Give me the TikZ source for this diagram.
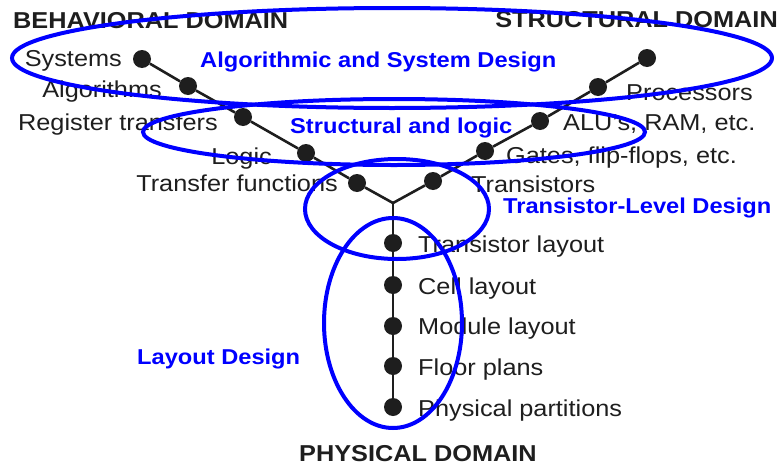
\documentclass[tikz,border=0pt]{standalone}
\usepackage{fontspec}
\setmainfont{Liberation Sans}[FakeStretch=1.1]

\definecolor{ink}{HTML}{1E1E1E}
\definecolor{markblue}{HTML}{0000FF}

\tikzset{
  dot/.style={circle, fill=ink, inner sep=0pt, minimum size=18pt},
  stagetext/.style={text=ink, inner sep=0pt, font=\fontsize{23}{27}\selectfont},
  domaintitle/.style={text=ink, inner sep=0pt, font=\fontsize{23}{27}\selectfont\bfseries},
  designtext/.style={text=markblue, inner sep=0pt, font=\fontsize{21.5}{25}\selectfont\bfseries},
  chainline/.style={ink, line width=2.6pt},
  ring/.style={draw=markblue, line width=4pt}
}

\begin{document}
\begin{tikzpicture}[x=1pt, y=-1pt]
    \useasboundingbox (0,0) rectangle (782,466);

    % The three domain titles
    \node[domaintitle, anchor=base west] (behav) at (13,28) {BEHAVIORAL DOMAIN};
    \node[domaintitle, anchor=base east] (struct) at (778,27) {STRUCTURAL DOMAIN};
    \node[domaintitle, anchor=base] (phys) at (418,461) {PHYSICAL DOMAIN};

    % Centre of the Y chart, where the three axes meet
    \coordinate (J) at (393,203);

    % Behavioral axis (upper left)
    \node[dot] (B1) at (142,59) {};
    \node[dot] (B2) at (188,86) {};
    \node[dot] (B3) at (243,117) {};
    \node[dot] (B4) at (306,153) {};
    \node[dot] (B5) at (357,183) {};
    \draw[chainline] (B1) -- (B2) -- (B3) -- (B4) -- (B5) -- (J);

    \node[stagetext, anchor=base east] (systems) at (122,66) {Systems};
    \node[stagetext, anchor=base east] (algo) at (162,97) {Algorithms};
    \node[stagetext, anchor=base east] (regtr) at (218,130) {Register transfers};
    \node[stagetext, anchor=base east] (logic) at (272,164) {Logic};
    \node[stagetext, anchor=base east] (transf) at (338,191) {Transfer functions};

    % Structural axis (upper right)
    \node[dot] (S1) at (647,58) {};
    \node[dot] (S2) at (598,87) {};
    \node[dot] (S3) at (540,121) {};
    \node[dot] (S4) at (485,151) {};
    \node[dot] (S5) at (433,181) {};
    \draw[chainline] (S1) -- (S2) -- (S3) -- (S4) -- (S5) -- (J);

    \node[stagetext, anchor=base west] (proc) at (626,100) {Processors};
    \node[stagetext, anchor=base west] (alu) at (563,130) {ALU's, RAM, etc.};
    \node[stagetext, anchor=base west] (gates) at (506,163) {Gates, flip-flops, etc.};
    \node[stagetext, anchor=base west] (trans) at (471,192) {Transistors};

    % Physical axis (down)
    \node[dot] (P1) at (393,243) {};
    \node[dot] (P2) at (393,285) {};
    \node[dot] (P3) at (393,326) {};
    \node[dot] (P4) at (393,366) {};
    \node[dot] (P5) at (393,407) {};
    \draw[chainline] (J) -- (P1) -- (P2) -- (P3) -- (P4) -- (P5);

    \node[stagetext, anchor=base west] (tlay) at (418,252) {Transistor layout};
    \node[stagetext, anchor=base west] (cell) at (418,294) {Cell layout};
    \node[stagetext, anchor=base west] (module) at (418,334) {Module layout};
    \node[stagetext, anchor=base west] (floor) at (418,375) {Floor plans};
    \node[stagetext, anchor=base west] (part) at (418,416) {Physical partitions};

    % Design levels circled in blue
    \draw[ring] (392,58) ellipse [x radius=380, y radius=50];
    \draw[ring] (394,132) ellipse [x radius=251, y radius=33];
    \draw[ring] (397,209) ellipse [x radius=92, y radius=50];
    \draw[ring] (393,323) ellipse [x radius=69, y radius=105];

    \node[designtext, anchor=base west] (algsys) at (200,67) {Algorithmic and System Design};
    \node[designtext, anchor=base west] (strlog) at (290,133) {Structural and logic};
    \node[designtext, anchor=base west] (trlev) at (503,213) {Transistor-Level Design};
    \node[designtext, anchor=base west] (laydes) at (137,364) {Layout Design};

\end{tikzpicture}
\end{document}
